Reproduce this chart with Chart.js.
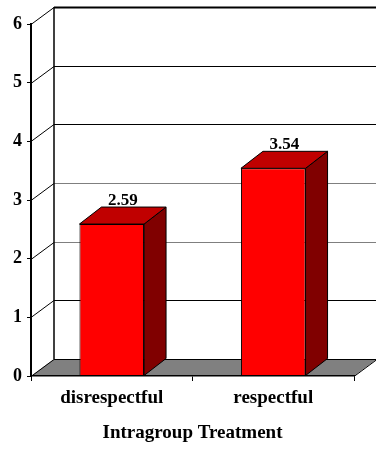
<!DOCTYPE html>
<html>
<head>
<meta charset="utf-8">
<script src="https://cdn.jsdelivr.net/npm/chart.js@4/dist/chart.umd.min.js"></script>
<style>
  html, body { margin: 0; padding: 0; background: #ffffff; }
  #wrap { width: 376px; height: 449px; }
</style>
</head>
<body>
<div id="wrap"><canvas id="c" width="376" height="449"></canvas></div>
<script>
// Chart data
const categories = ['disrespectful', 'respectful'];
const meanScores = [2.59, 3.54];
const yTicks = [0, 1, 2, 3, 4, 5, 6];
const axisTitle = 'Intragroup Treatment';

// Depth of the pseudo-3D box (pixels to the back plane)
const DEPTH_X = 23;
const DEPTH_Y = 17;
const BAR_DEPTH_X = 22;
const SERIF = '"Liberation Serif", "Times New Roman", serif';
const FONT = 'bold 17px ' + SERIF;

function gridColor(v) {
  return (v === 2 || v === 3) ? '#7f7f7f' : '#000000';
}

const depthPlugin = {
  id: 'depth3d',
  beforeDatasetsDraw(chart) {
    const { ctx, chartArea: a, scales: { y } } = chart;
    const y0 = y.getPixelForValue(0);
    ctx.save();
    // floor
    ctx.beginPath();
    ctx.moveTo(a.left, y0);
    ctx.lineTo(a.right, y0);
    ctx.lineTo(a.right + DEPTH_X, y0 - DEPTH_Y);
    ctx.lineTo(a.left + DEPTH_X, y0 - DEPTH_Y);
    ctx.closePath();
    ctx.fillStyle = '#808080';
    ctx.fill();
    ctx.lineWidth = 1;
    ctx.strokeStyle = '#000000';
    ctx.beginPath();
    ctx.moveTo(a.right, y0 + 0.5);
    ctx.lineTo(a.right + DEPTH_X, y0 - DEPTH_Y + 0.5);
    ctx.stroke();

    // back wall gridlines and side wall diagonals
    yTicks.forEach(v => {
      const py = Math.round(y.getPixelForValue(v));
      const by = py - DEPTH_Y;
      ctx.strokeStyle = gridColor(v);
      ctx.lineWidth = v === yTicks[yTicks.length - 1] ? 2 : 1;
      ctx.beginPath();
      ctx.moveTo(a.left + DEPTH_X, by + 0.5);
      ctx.lineTo(chart.width + 2, by + 0.5);
      ctx.stroke();
      ctx.strokeStyle = '#000000';
      ctx.lineWidth = 1;
      ctx.beginPath();
      ctx.moveTo(a.left, py + 0.5);
      ctx.lineTo(a.left + DEPTH_X, by + 0.5);
      ctx.stroke();
    });
    // back-left vertical edge
    ctx.strokeStyle = '#000000';
    ctx.lineWidth = 1.5;
    ctx.beginPath();
    ctx.moveTo(a.left + DEPTH_X, y.getPixelForValue(6) - DEPTH_Y);
    ctx.lineTo(a.left + DEPTH_X, y0 - DEPTH_Y);
    ctx.stroke();
    ctx.restore();
  },
  afterDatasetsDraw(chart) {
    const { ctx } = chart;
    const meta = chart.getDatasetMeta(0);
    ctx.save();
    ctx.lineWidth = 1;
    ctx.strokeStyle = '#000000';
    meta.data.forEach((bar, i) => {
      const { x, y, width, base } = bar.getProps(['x', 'y', 'width', 'base'], true);
      const left = x - width / 2;
      const right = x + width / 2;
      // side face
      ctx.beginPath();
      ctx.moveTo(right, y);
      ctx.lineTo(right + BAR_DEPTH_X, y - DEPTH_Y);
      ctx.lineTo(right + BAR_DEPTH_X, base - DEPTH_Y);
      ctx.lineTo(right, base);
      ctx.closePath();
      ctx.fillStyle = '#800000';
      ctx.fill();
      ctx.stroke();
      // top face
      ctx.beginPath();
      ctx.moveTo(left, y);
      ctx.lineTo(left + BAR_DEPTH_X, y - DEPTH_Y);
      ctx.lineTo(right + BAR_DEPTH_X, y - DEPTH_Y);
      ctx.lineTo(right, y);
      ctx.closePath();
      ctx.fillStyle = '#c00000';
      ctx.fill();
      ctx.stroke();
      // value label
      ctx.fillStyle = '#000000';
      ctx.font = FONT;
      ctx.textAlign = 'center';
      ctx.textBaseline = 'alphabetic';
      ctx.fillText(meanScores[i].toFixed(2), x + BAR_DEPTH_X / 2, y - DEPTH_Y - 2);
    });
    ctx.restore();
  }
};

new Chart(document.getElementById('c'), {
  type: 'bar',
  data: {
    labels: categories,
    datasets: [{
      data: meanScores,
      backgroundColor: '#ff0000',
      borderColor: '#000000',
      borderWidth: 1,
      barPercentage: 0.4,
      categoryPercentage: 1
    }]
  },
  options: {
    responsive: false,
    animation: false,
    devicePixelRatio: 1,
    layout: { padding: { top: 24, right: 22, left: 0, bottom: 0 } },
    plugins: { legend: { display: false }, tooltip: { enabled: false } },
    scales: {
      y: {
        min: 0,
        max: 6,
        afterBuildTicks: s => { s.ticks = yTicks.map(v => ({ value: v })); },
        afterFit: s => { s.width = 31; },
        ticks: {
          color: '#000000',
          padding: 5,
          font: { family: SERIF, size: 18, weight: 'bold' }
        },
        grid: { drawOnChartArea: false, tickLength: 4, color: '#000000' },
        border: { display: true, color: '#000000', width: 2, z: 1 }
      },
      x: {
        offset: true,
        afterFit: s => { s.height = 73; },
        ticks: {
          color: '#000000',
          padding: 6,
          font: { family: SERIF, size: 19, weight: 'bold' }
        },
        grid: { drawOnChartArea: false, offset: true, tickLength: 5, color: '#000000' },
        border: { display: true, color: '#000000', width: 1.5, z: 1 },
        title: {
          display: true,
          text: axisTitle,
          color: '#000000',
          padding: { top: 4, bottom: 5 },
          font: { family: SERIF, size: 19, weight: 'bold' }
        }
      }
    }
  },
  plugins: [depthPlugin]
});
</script>
</body>
</html>
